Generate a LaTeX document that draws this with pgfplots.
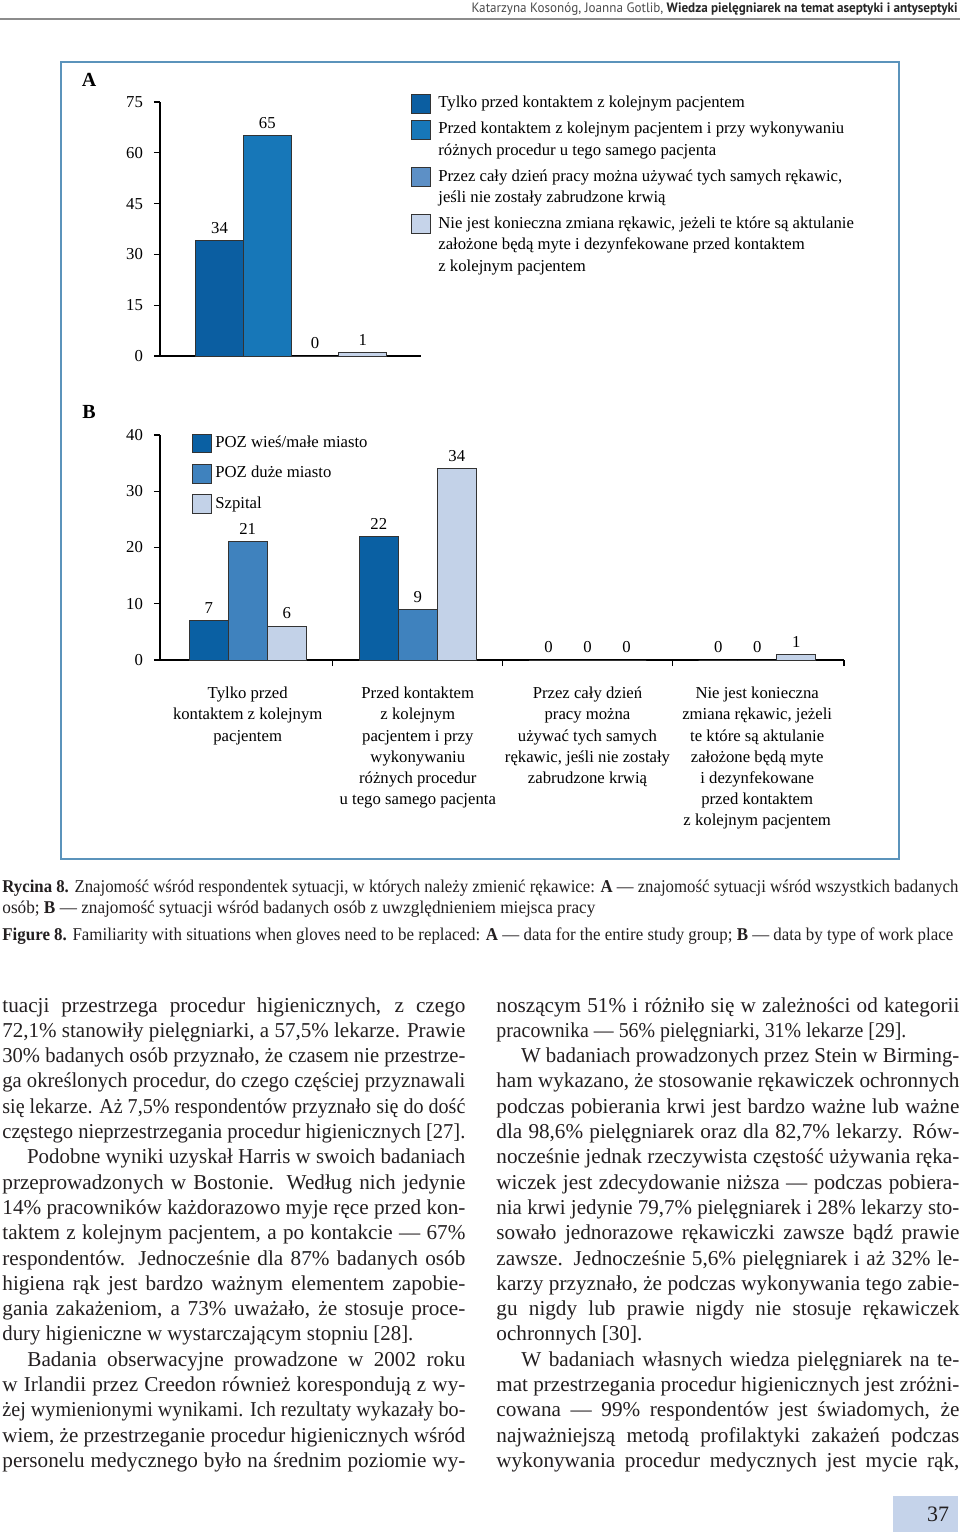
\documentclass[border=0pt]{standalone}
\usepackage{fontspec}
\setmainfont{Liberation Serif}
\newfontfamily\hdrfont{PT Sans}
\usepackage{graphicx}
\usepackage{pgfplots}
\pgfplotsset{compat=1.18}

\definecolor{framec}{HTML}{5B93BB}
\definecolor{aone}{HTML}{0B5EA1}
\definecolor{atwo}{HTML}{1777B8}
\definecolor{athree}{HTML}{5D90C6}
\definecolor{afour}{HTML}{C6D4EA}
\definecolor{bone}{HTML}{0A60A3}
\definecolor{btwo}{HTML}{3F82BE}
\definecolor{bthree}{HTML}{C3D2E8}
\definecolor{ink}{HTML}{231F20}
\definecolor{pgbox}{HTML}{C5D3EA}
\definecolor{bord}{HTML}{333333}

\newcommand\chartfont{\fontsize{8.35}{10.6}\selectfont}
\newcommand\bodyfont{\fontsize{10.6}{12.65}\selectfont}
\newlength\colw \setlength\colw{231.5pt}
\newsavebox\fitbox
% scale a line horizontally to a given width
\newcommand\fitto[2]{\sbox\fitbox{#2}\pgfmathsetmacro\fitr{#1/\the\wd\fitbox}\scalebox{\fitr}[1]{\usebox\fitbox}}
% justified line: stretch spaces, or squeeze if too long
\newcommand\jl[1]{\sbox\fitbox{#1}\ifdim\wd\fitbox>\colw\relax\fitto{\the\colw}{#1}\else\makebox[\colw][s]{#1}\fi}

\begin{document}
\begin{tikzpicture}[x=0.5pt,y=0.5pt]
\path[fill=white, use as bounding box] (0,0) rectangle (960,-1539);

% header
\node[anchor=base east, inner sep=0pt, font=\hdrfont\fontsize{6.8}{8}\selectfont] at (958,-12.5)
  {\fitto{243pt}{\textcolor{black!70}{Katarzyna Kosonóg, Joanna Gotlib,} \textcolor{black!85}{\bfseries Wiedza pielęgniarek na temat aseptyki i antyseptyki}}};
\draw[black!45, line width=1pt] (0,-18.5) -- (960,-18.5);

% frame
\draw[framec, line width=1pt] (61,-62) rectangle (899,-859);

% ---------- A ----------
\node[font=\fontsize{10}{12}\selectfont\bfseries] at (89,-80) {A};
\begin{axis}[
  at={(80pt,-178pt)}, anchor=south west,
  x=0.5pt, y=1.6935pt,
  xmin=160, xmax=421, ymin=0, ymax=75,
  axis lines=left, axis line style={-, line width=0.6pt},
  ytick={0,15,30,45,60,75}, xtick=\empty,
  tick align=outside, major tick length=3pt,
  tick style={black, line width=0.6pt},
  tick label style={font=\chartfont},
  yticklabel style={xshift=-2pt},
  /pgf/number format/assume math mode=true,
  ybar, bar width=47.7, bar shift=0pt,
  nodes near coords,
  every node near coord/.append style={font=\chartfont},
  clip=false,
]
\addplot[fill=aone, draw=bord, line width=0.5pt] coordinates {(219.6,34)};
\addplot[fill=atwo, draw=bord, line width=0.5pt] coordinates {(267.3,65)};
\addplot[fill=athree, draw=bord, line width=0.5pt] coordinates {(315.0,0)};
\addplot[fill=afour, draw=bord, line width=0.5pt] coordinates {(362.7,1)};
\end{axis}

% legend A
\begin{scope}[bord, line width=0.5pt]
\filldraw[fill=aone]   (411,-94)  rectangle (430,-113);
\filldraw[fill=atwo]   (411,-120) rectangle (430,-139);
\filldraw[fill=athree] (411,-167) rectangle (430,-186);
\filldraw[fill=afour]  (411,-214) rectangle (430,-233);
\end{scope}
\begin{scope}[every node/.style={anchor=base west, inner sep=0pt, font=\chartfont}]
\node at (438,-107) {Tylko przed kontaktem z kolejnym pacjentem};
\node at (438,-133) {Przed kontaktem z kolejnym pacjentem i przy wykonywaniu};
\node at (438,-155) {różnych procedur u tego samego pacjenta};
\node at (438,-181) {Przez cały dzień pracy można używać tych samych rękawic,};
\node at (438,-202) {jeśli nie zostały zabrudzone krwią};
\node at (438,-228) {Nie jest konieczna zmiana rękawic, jeżeli te które są aktulanie};
\node at (438,-249) {założone będą myte i dezynfekowane przed kontaktem};
\node at (438,-271) {z kolejnym pacjentem};
\end{scope}

% ---------- B ----------
\node[font=\fontsize{10}{12}\selectfont\bfseries] at (89,-412) {B};
\begin{axis}[
  at={(80pt,-330pt)}, anchor=south west,
  x=0.5pt, y=2.8125pt,
  xmin=160, xmax=844, ymin=0, ymax=40,
  axis lines=left, axis line style={-, line width=0.6pt},
  ytick={0,10,20,30,40},
  xtick={332.6,502.7,672.4,844}, xticklabels={,,,},
  extra x ticks={247.7,417.8,587.5,757.2},
  extra x tick labels={
    {Tylko przed\\kontaktem z kolejnym\\pacjentem},
    {Przed kontaktem\\z kolejnym\\pacjentem i przy\\wykonywaniu\\różnych procedur\\u tego samego pacjenta},
    {Przez cały dzień\\pracy można\\używać tych samych\\rękawic, jeśli nie zostały\\zabrudzone krwią},
    {Nie jest konieczna\\zmiana rękawic, jeżeli\\te które są aktulanie\\założone będą myte\\i dezynfekowane\\przed kontaktem\\z kolejnym pacjentem}},
  extra x tick style={major tick length=0pt,
    tick label style={align=center, anchor=north, yshift=-10pt}},
  tick align=outside, major tick length=3pt,
  tick style={black, line width=0.6pt},
  tick label style={font=\chartfont},
  yticklabel style={xshift=-2pt},
  /pgf/number format/assume math mode=true,
  ybar, bar width=39, bar shift=0pt,
  nodes near coords,
  every node near coord/.append style={font=\chartfont},
  clip=false,
]
\addplot[fill=bone, draw=bord, line width=0.5pt] coordinates {(208.7,7) (378.8,22) (548.5,0) (718.2,0)};
\addplot[fill=btwo, draw=bord, line width=0.5pt] coordinates {(247.7,21) (417.8,9) (587.5,0) (757.2,0)};
\addplot[fill=bthree, draw=bord, line width=0.5pt] coordinates {(286.7,6) (456.8,34) (626.5,0) (796.2,1)};
\end{axis}

% legend B
\begin{scope}[bord, line width=0.5pt]
\filldraw[fill=bone]   (192,-434) rectangle (211,-452);
\filldraw[fill=btwo]   (192,-464) rectangle (211,-483);
\filldraw[fill=bthree] (192,-494) rectangle (211,-513);
\end{scope}
\begin{scope}[every node/.style={anchor=base west, inner sep=0pt, font=\chartfont}]
\node at (215,-447) {POZ wieś/małe miasto};
\node at (215,-477) {POZ duże miasto};
\node at (215,-508) {Szpital};
\end{scope}

% ---------- caption ----------
\begin{scope}[every node/.style={anchor=base west, inner sep=0pt, text=ink, font=\fontsize{9}{10.5}\selectfont}]
\node at (2,-892) {\fitto{478pt}{\textbf{Rycina 8.} Znajomość wśród respondentek sytuacji, w których należy zmienić rękawice: \textbf{A} — znajomość sytuacji wśród wszystkich badanych}};
\node at (2,-913) {\fitto{296.5pt}{osób; \textbf{B} — znajomość sytuacji wśród badanych osób z uwzględnieniem miejsca pracy}};
\node at (2,-940) {\fitto{475.5pt}{\textbf{Figure 8.} Familiarity with situations when gloves need to be replaced: \textbf{A} — data for the entire study group; \textbf{B} — data by type of work place}};
\end{scope}

% ---------- body text ----------
\node[anchor=base west, inner sep=0pt, text=ink] at (2,-1012) {\begin{minipage}[t]{\colw}\bodyfont\parindent0pt\parskip0pt
\jl{tuacji przestrzega procedur higienicznych, z czego}\par
\jl{72,1\% stanowiły pielęgniarki, a 57,5\% lekarze. Prawie}\par
\jl{30\% badanych osób przyznało, że czasem nie przestrze-}\par
\jl{ga określonych procedur, do czego częściej przyznawali}\par
\jl{się lekarze. Aż 7,5\% respondentów przyznało się do dość}\par
\jl{częstego nieprzestrzegania procedur higienicznych [27].}\par
\jl{\hspace*{12.5pt}Podobne wyniki uzyskał Harris w swoich badaniach}\par
\jl{przeprowadzonych w Bostonie. Według nich jedynie}\par
\jl{14\% pracowników każdorazowo myje ręce przed kon-}\par
\jl{taktem z kolejnym pacjentem, a po kontakcie — 67\%}\par
\jl{respondentów. Jednocześnie dla 87\% badanych osób}\par
\jl{higiena rąk jest bardzo ważnym elementem zapobie-}\par
\jl{gania zakażeniom, a 73\% uważało, że stosuje proce-}\par
\fitto{205.5pt}{dury higieniczne w wystarczającym stopniu [28].}\par
\jl{\hspace*{12.5pt}Badania obserwacyjne prowadzone w 2002 roku}\par
\jl{w Irlandii przez Creedon również korespondują z wy-}\par
\jl{żej wymienionymi wynikami. Ich rezultaty wykazały bo-}\par
\jl{wiem, że przestrzeganie procedur higienicznych wśród}\par
\jl{personelu medycznego było na średnim poziomie wy-}\par
\end{minipage}};

\node[anchor=base west, inner sep=0pt, text=ink] at (496,-1012) {\begin{minipage}[t]{\colw}\bodyfont\parindent0pt\parskip0pt
\jl{noszącym 51\% i różniło się w zależności od kategorii}\par
\fitto{205pt}{pracownika — 56\% pielęgniarki, 31\% lekarze [29].}\par
\jl{\hspace*{12.5pt}W badaniach prowadzonych przez Stein w Birming-}\par
\jl{ham wykazano, że stosowanie rękawiczek ochronnych}\par
\jl{podczas pobierania krwi jest bardzo ważne lub ważne}\par
\jl{dla 98,6\% pielęgniarek oraz dla 82,7\% lekarzy. Rów-}\par
\jl{nocześnie jednak rzeczywista częstość używania ręka-}\par
\jl{wiczek jest zdecydowanie niższa — podczas pobiera-}\par
\jl{nia krwi jedynie 79,7\% pielęgniarek i 28\% lekarzy sto-}\par
\jl{sowało jednorazowe rękawiczki zawsze bądź prawie}\par
\jl{zawsze. Jednocześnie 5,6\% pielęgniarek i aż 32\% le-}\par
\jl{karzy przyznało, że podczas wykonywania tego zabie-}\par
\jl{gu nigdy lub prawie nigdy nie stosuje rękawiczek}\par
\mbox{ochronnych [30].}\par
\jl{\hspace*{12.5pt}W badaniach własnych wiedza pielęgniarek na te-}\par
\jl{mat przestrzegania procedur higienicznych jest zróżni-}\par
\jl{cowana — 99\% respondentów jest świadomych, że}\par
\jl{najważniejszą metodą profilaktyki zakażeń podczas}\par
\jl{wykonywania procedur medycznych jest mycie rąk,}\par
\end{minipage}};

% page number
\fill[pgbox] (893,-1496) rectangle (958,-1532);
\node[font=\fontsize{11}{13}\selectfont, text=ink] at (938,-1514) {37};
\end{tikzpicture}
\end{document}
